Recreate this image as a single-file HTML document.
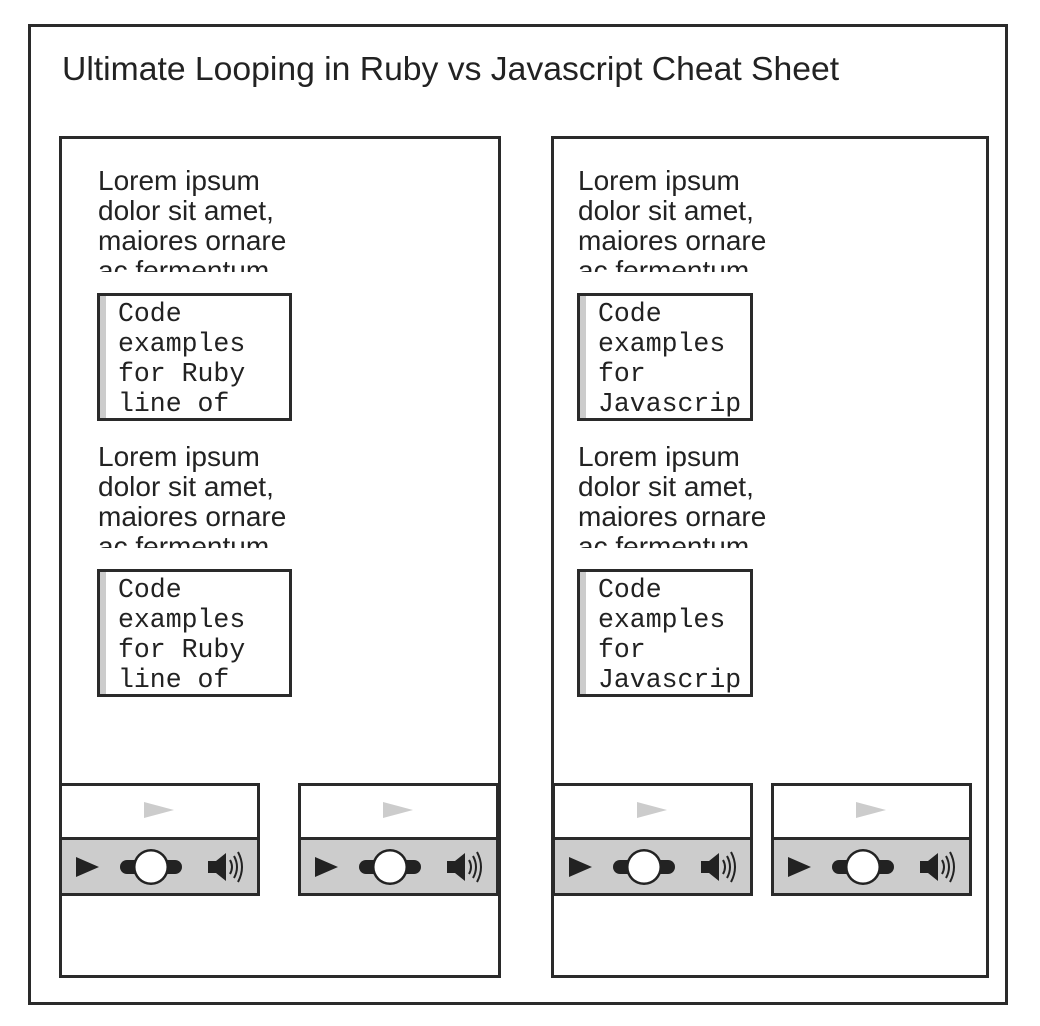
<!DOCTYPE html>
<html><head><meta charset="utf-8"><style>
*{margin:0;padding:0;box-sizing:border-box}
body{width:1040px;height:1026px;background:#fff;position:relative;overflow:hidden;font-family:"Liberation Sans",sans-serif;color:#222}
.b{position:absolute;border:3px solid #2a2a2a;background:#fff}
.title{position:absolute;left:62px;top:50px;font-size:33.7px;white-space:nowrap;color:#222}
.p{position:absolute;width:200px;height:107px;overflow:hidden;font-size:28px;line-height:30px;color:#222;padding-top:1px}
.code{position:absolute;border:3px solid #2a2a2a;background:#fff;overflow:hidden;box-shadow:inset 6px 0 0 #ccc}
.code div{position:absolute;left:18px;top:3px;font-family:"Liberation Mono",monospace;font-size:26.5px;line-height:30px;color:#222;white-space:pre}
.vid{position:absolute;width:201px;height:113px;border:3px solid #2a2a2a;background:#fff}
.vid .bar{position:absolute;left:0;right:0;top:51px;bottom:0;background:#ccc;border-top:3px solid #2a2a2a}
</style></head><body>
<div class="b" style="left:28px;top:24px;width:980px;height:981px"></div>
<div class="title">Ultimate Looping in Ruby vs Javascript Cheat Sheet</div>
<div class="b" style="left:59px;top:136px;width:442px;height:842px"></div>
<div class="b" style="left:551px;top:136px;width:438px;height:842px"></div>

<div class="p" style="left:98px;top:165px">Lorem ipsum dolor sit amet, maiores ornare ac fermentum</div>
<div class="p" style="left:98px;top:441px">Lorem ipsum dolor sit amet, maiores ornare ac fermentum</div>
<div class="p" style="left:578px;top:165px">Lorem ipsum dolor sit amet, maiores ornare ac fermentum</div>
<div class="p" style="left:578px;top:441px">Lorem ipsum dolor sit amet, maiores ornare ac fermentum</div>

<div class="code" style="left:97px;top:293px;width:195px;height:128px"><div>Code
examples
for Ruby
line of</div></div>
<div class="code" style="left:97px;top:569px;width:195px;height:128px"><div>Code
examples
for Ruby
line of</div></div>
<div class="code" style="left:577px;top:293px;width:176px;height:128px"><div>Code
examples
for
Javascrip</div></div>
<div class="code" style="left:577px;top:569px;width:176px;height:128px"><div>Code
examples
for
Javascrip</div></div>

<svg width="0" height="0" style="position:absolute"><defs>
<g id="ctl">
<polygon points="14,17 14,37 37,27" fill="#222"/>
<rect x="58" y="20" width="62" height="14" rx="7" fill="#222"/>
<circle cx="89" cy="27" r="18" fill="#222"/>
<circle cx="89" cy="27" r="15.5" fill="#fff"/>
<polygon points="146,21 154,21 164,13 164,41 154,33 146,33" fill="#222"/>
<path d="M168,20 Q172,27 168,34 M172,16 Q178,27 172,38 M176,12 Q184,27 176,42" stroke="#222" stroke-width="2" fill="none"/>
</g></defs></svg>

<div class="vid" style="left:59px;top:783px"><svg style="position:absolute;left:78px;top:14px" width="36" height="20"><polygon points="4,2 4,18 34,10" fill="#ccc"/></svg><div class="bar"><svg width="195" height="56"><use href="#ctl"/></svg></div></div>
<div class="vid" style="left:298px;top:783px"><svg style="position:absolute;left:78px;top:14px" width="36" height="20"><polygon points="4,2 4,18 34,10" fill="#ccc"/></svg><div class="bar"><svg width="195" height="56"><use href="#ctl"/></svg></div></div>
<div class="vid" style="left:552px;top:783px"><svg style="position:absolute;left:78px;top:14px" width="36" height="20"><polygon points="4,2 4,18 34,10" fill="#ccc"/></svg><div class="bar"><svg width="195" height="56"><use href="#ctl"/></svg></div></div>
<div class="vid" style="left:771px;top:783px"><svg style="position:absolute;left:78px;top:14px" width="36" height="20"><polygon points="4,2 4,18 34,10" fill="#ccc"/></svg><div class="bar"><svg width="195" height="56"><use href="#ctl"/></svg></div></div>
</body></html>
